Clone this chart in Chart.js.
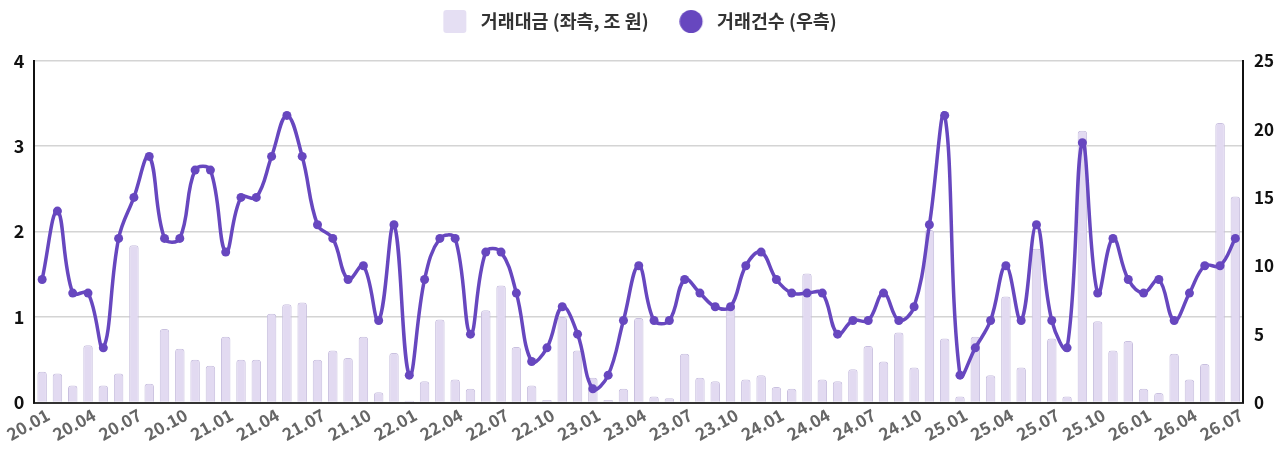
<!DOCTYPE html>
<html>
<head>
<meta charset="utf-8">
<script src="https://cdn.jsdelivr.net/npm/chart.js@4.4.1/dist/chart.umd.min.js"></script>
<style>
html,body{margin:0;padding:0;background:#ffffff;}
#wrap{width:1280px;height:463px;position:relative;}
</style>
</head>
<body>
<div id="wrap"><canvas id="c"></canvas></div>
<script>
// ---------- DATA ----------
const categories = [
  '20.01','20.02','20.03','20.04','20.05','20.06','20.07','20.08','20.09','20.10','20.11','20.12',
  '21.01','21.02','21.03','21.04','21.05','21.06','21.07','21.08','21.09','21.10','21.11','21.12',
  '22.01','22.02','22.03','22.04','22.05','22.06','22.07','22.08','22.09','22.10','22.11','22.12',
  '23.01','23.02','23.03','23.04','23.05','23.06','23.07','23.08','23.09','23.10','23.11','23.12',
  '24.01','24.02','24.03','24.04','24.05','24.06','24.07','24.08','24.09','24.10','24.11','24.12',
  '25.01','25.02','25.03','25.04','25.05','25.06','25.07','25.08','25.09','25.10','25.11','25.12',
  '26.01','26.02','26.03','26.04','26.05','26.06','26.07'
];
// 거래대금 (좌측, 조 원)
const tradeAmount = [
  0.36,0.34,0.20,0.67,0.20,0.34,1.84,0.22,0.86,0.63,
  0.50,0.43,0.77,0.50,0.50,1.04,1.15,1.17,0.50,0.61,
  0.52,0.77,0.12,0.58,0.02,0.25,0.97,0.27,0.16,1.08,
  1.37,0.65,0.20,0.03,1.00,0.61,0.29,0.03,0.16,0.99,
  0.07,0.05,0.57,0.29,0.25,1.12,0.27,0.32,0.18,0.16,
  1.51,0.27,0.25,0.39,0.66,0.48,0.82,0.41,2.02,0.75,
  0.07,0.77,0.32,1.24,0.41,1.80,0.75,0.07,3.18,0.95,
  0.61,0.72,0.16,0.11,0.57,0.27,0.45,3.27,2.41
];
// 거래건수 (우측)
const tradeCount = [
  9,14,8,8,4,12,15,18,12,12,
  17,17,11,15,15,18,21,18,13,12,
  9,10,6,13,2,9,12,12,5,11,
  11,8,3,4,7,5,1,2,6,10,
  6,6,9,8,7,7,10,11,9,8,
  8,8,5,6,6,8,6,7,13,21,
  2,4,6,10,6,13,6,4,19,8,
  12,9,8,9,6,8,10,10,12
];
const xTickLabels = ['20.01','20.04','20.07','20.10','21.01','21.04','21.07','21.10',
  '22.01','22.04','22.07','22.10','23.01','23.04','23.07','23.10','24.01','24.04',
  '24.07','24.10','25.01','25.04','25.07','25.10','26.01','26.04','26.07'];
const leftAxis = {min: 0, max: 4, step: 1};
const rightAxis = {min: 0, max: 25, step: 5};
const seriesNames = ['거래대금 (좌측, 조 원)', '거래건수 (우측)'];

// ---------- STYLE ----------
const FONT = "'Noto Sans CJK KR', 'Noto Sans', sans-serif";
const BAR_FILL = '#e2daf1';
const BAR_BORDER = '#c9c0df';
const LEGEND_BAR = '#e5dff3';
const LINE_COLOR = '#6747bf';

const LEG_F = 18.4, MARK = 23, GAP_TEXT = 14.5, GAP_ITEM = 31;
const LEG_PAD = GAP_ITEM;
const PSW = MARK + GAP_TEXT - LEG_F / 2;
const markOff = MARK / 2 - PSW / 2;

function makeMarker(shape, color) {
  const W = Math.ceil(2 * (Math.abs(markOff) + MARK / 2));
  const c = document.createElement('canvas');
  c.width = W; c.height = MARK;
  const g = c.getContext('2d');
  const x0 = W / 2 + markOff - MARK / 2;
  g.fillStyle = color;
  g.beginPath();
  if (shape === 'circle') {
    g.arc(x0 + MARK / 2, MARK / 2, MARK / 2, 0, Math.PI * 2);
  } else {
    g.roundRect(x0, 0, MARK, MARK, 3);
  }
  g.fill();
  return c;
}
const barMarker = makeMarker('rect', LEGEND_BAR);
const lineMarker = makeMarker('circle', LINE_COLOR);

const LEG_CENTER_Y = 21.5;
const LEG_TOP = LEG_CENTER_Y - LEG_PAD - LEG_F / 2;
const CHART_TOP = 60.7;

const legendSpacer = {
  id: 'legendSpacer',
  beforeInit(chart) {
    const lg = chart.legend;
    if (!lg || lg._patched) return;
    const orig = lg.fit;
    lg.fit = function () {
      orig.call(this);
      this.height = CHART_TOP - LEG_TOP;
    };
    lg._patched = true;
  }
};

const defaultGen = Chart.defaults.plugins.legend.labels.generateLabels;

new Chart(document.getElementById('c'), {
  type: 'bar',
  data: {
    labels: categories,
    datasets: [
      {
        type: 'bar',
        label: seriesNames[0],
        data: tradeAmount,
        yAxisID: 'y',
        backgroundColor: BAR_FILL,
        borderColor: BAR_BORDER,
        borderWidth: 1,
        borderRadius: 3,
        borderSkipped: 'start',
        categoryPercentage: 1.0,
        barPercentage: 0.62,
        order: 2
      },
      {
        type: 'line',
        label: seriesNames[1],
        data: tradeCount,
        yAxisID: 'y1',
        borderColor: LINE_COLOR,
        backgroundColor: LINE_COLOR,
        borderWidth: 3.5,
        pointRadius: 4.5,
        pointBackgroundColor: LINE_COLOR,
        pointBorderWidth: 0,
        tension: 0.4,
        fill: false,
        order: 1
      }
    ]
  },
  options: {
    responsive: true,
    maintainAspectRatio: false,
    animation: false,
    events: [],
    layout: { padding: { top: LEG_TOP, left: 0, right: 0, bottom: 0 } },
    plugins: {
      tooltip: { enabled: false },
      legend: {
        display: true,
        position: 'top',
        align: 'center',
        labels: {
          usePointStyle: true,
          pointStyleWidth: PSW,
          padding: LEG_PAD,
          color: '#333333',
          font: { family: FONT, size: LEG_F, weight: 'bold' },
          sort: (a, b) => a.datasetIndex - b.datasetIndex,
          generateLabels: (chart) => {
            const items = defaultGen(chart);
            items.forEach(it => {
              it.pointStyle = it.datasetIndex === 0 ? barMarker : lineMarker;
              it.lineWidth = 0;
            });
            return items;
          }
        }
      }
    },
    scales: {
      x: {
        offset: true,
        grid: { display: false, drawTicks: false },
        border: { display: true, color: '#333333', width: 2 },
        afterFit: (s) => { s.height = 463 - 402.5; },
        ticks: {
          autoSkip: false,
          minRotation: 29,
          maxRotation: 29,
          padding: 2,
          labelOffset: 6,
          color: '#666666',
          font: { family: FONT, size: 17, weight: 'bold' },
          callback: function (val, idx) {
            const lab = categories[idx];
            return xTickLabels.includes(lab) ? lab : '';
          }
        }
      },
      y: {
        position: 'left',
        min: leftAxis.min,
        max: leftAxis.max,
        afterFit: (s) => { s.width = 34; },
        grid: { color: '#d4d4d4', lineWidth: 1.5, drawTicks: false },
        border: { display: true, color: '#111111', width: 2 },
        ticks: {
          stepSize: leftAxis.step,
          padding: 10,
          color: '#111111',
          font: { family: FONT, size: 18, weight: 'bold' }
        }
      },
      y1: {
        position: 'right',
        min: rightAxis.min,
        max: rightAxis.max,
        afterFit: (s) => { s.width = 1280 - 1243; },
        grid: { display: false, drawTicks: false },
        border: { display: true, color: '#111111', width: 2 },
        ticks: {
          stepSize: rightAxis.step,
          padding: 11,
          color: '#111111',
          font: { family: FONT, size: 17, weight: 'bold' }
        }
      }
    }
  },
  plugins: [legendSpacer]
});
</script>
</body>
</html>
